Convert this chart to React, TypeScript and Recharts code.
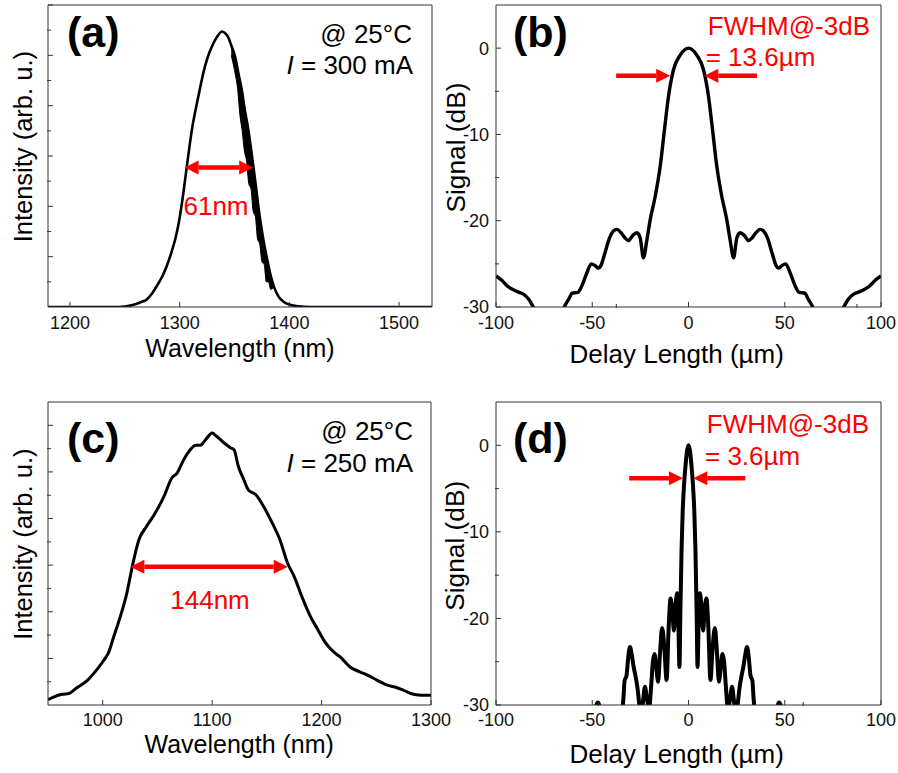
import React from 'react';
import { LineChart, ComposedChart, Line, Area, XAxis, YAxis, ReferenceLine } from 'recharts';

// (a) spectrum at 300 mA
const wavelengthA = [1180, 1200, 1220, 1240, 1250, 1258, 1264, 1270, 1275, 1279, 1284, 1288, 1292, 1296, 1299, 1302, 1306, 1311, 1317, 1323, 1327, 1331, 1335, 1338.5, 1341, 1344, 1347, 1350.5, 1353.5, 1356.6, 1359.5, 1362.6, 1365, 1367.2, 1369.5, 1371.7, 1374, 1376.3, 1379.5, 1382.4, 1386, 1390, 1395, 1400.6, 1408, 1420, 1450, 1500, 1530];
const intensityA = [0, 0, 0, 0, 0.002, 0.009, 0.018, 0.03, 0.055, 0.082, 0.12, 0.16, 0.21, 0.27, 0.33, 0.41, 0.54, 0.7, 0.836, 0.955, 1.01, 1.05, 1.08, 1.095, 1.09, 1.074, 1.04, 0.995, 0.93, 0.863, 0.78, 0.704, 0.63, 0.558, 0.48, 0.4, 0.33, 0.267, 0.195, 0.135, 0.08, 0.042, 0.02, 0.009, 0.003, 0, 0, 0, 0];
// noisy band on the long-wavelength edge
const noiseWlA = [1347, 1350, 1353, 1355, 1357, 1359, 1361, 1363, 1365, 1367, 1369, 1371, 1373, 1375, 1377, 1379, 1381, 1383, 1385];
const noiseLoA = [1.0, 0.94, 0.86, 0.76, 0.7, 0.62, 0.58, 0.49, 0.47, 0.38, 0.36, 0.27, 0.25, 0.18, 0.17, 0.1, 0.1, 0.07, 0.075];
const noiseHiA = [1.04, 1.0, 0.94, 0.9, 0.85, 0.79, 0.74, 0.69, 0.63, 0.565, 0.5, 0.425, 0.36, 0.3, 0.25, 0.205, 0.165, 0.125, 0.09];

// (b) interferogram, 13.6 um
const delayB = [-100, -97, -94, -91, -88, -85.8, -83, -80.6, -77, -72, -67, -64.5, -62, -60.5, -57.5, -55.5, -52.9, -50.5, -48.5, -46.8, -45.5, -43.5, -41, -39, -37.2, -35, -33, -31.2, -29, -26.8, -25.1, -23.4, -21.6, -19.9, -17.3, -14.7, -12.1, -10.4, -7.8, -4.3, 0, 4.3, 7.8, 10.4, 12.1, 14.7, 17.3, 19.9, 21.6, 23.4, 25.1, 26.8, 29, 31.2, 33, 35, 37.2, 39, 41, 43.5, 45.5, 46.8, 48.5, 50.5, 52.9, 55.5, 57.5, 60.5, 62, 64.5, 67, 72, 77, 80.6, 83, 85.8, 88, 91, 94, 97, 100];
const signalB = [-26.4, -26.9, -27.6, -28.0, -28.3, -28.5, -29.1, -30.0, -31.5, -32.5, -31.5, -30.0, -29.0, -28.4, -28.3, -27.6, -26.1, -25.0, -25.2, -25.5, -25.2, -23.8, -22.0, -21.2, -21.0, -21.4, -22.0, -22.3, -21.7, -21.4, -22.0, -24.3, -22.2, -19.9, -17.2, -13.7, -8.7, -5.6, -2.5, -0.8, 0, -0.8, -2.5, -5.6, -8.7, -13.7, -17.2, -19.9, -22.2, -24.3, -22.0, -21.4, -21.7, -22.3, -22.0, -21.4, -21.0, -21.2, -22.0, -23.8, -25.2, -25.5, -25.2, -25.0, -26.1, -27.6, -28.3, -28.4, -29.0, -30.0, -31.5, -32.5, -31.5, -30.0, -29.1, -28.5, -28.3, -28.0, -27.6, -26.9, -26.4];

// (c) spectrum at 250 mA
const wavelengthC = [950, 955, 963, 969, 976, 986, 993, 1001, 1005, 1010, 1016, 1022, 1027, 1033, 1040, 1047, 1056, 1063, 1068, 1074, 1080, 1085, 1089, 1094, 1100, 1104, 1111, 1117, 1120, 1124, 1129, 1133, 1140, 1147, 1155, 1162, 1169, 1175, 1182, 1190, 1196, 1203, 1211, 1217, 1226, 1235, 1242, 1251, 1260, 1267, 1275, 1284, 1292, 1300];
const intensityC = [0.023, 0.034, 0.046, 0.049, 0.073, 0.106, 0.142, 0.192, 0.221, 0.292, 0.378, 0.479, 0.594, 0.708, 0.766, 0.816, 0.895, 0.973, 0.995, 1.052, 1.095, 1.114, 1.114, 1.138, 1.167, 1.153, 1.124, 1.103, 1.095, 1.023, 0.966, 0.923, 0.902, 0.852, 0.78, 0.708, 0.608, 0.551, 0.465, 0.378, 0.328, 0.271, 0.228, 0.206, 0.163, 0.142, 0.128, 0.106, 0.085, 0.077, 0.063, 0.046, 0.042, 0.042];

// (d) interferogram, 3.6 um
const delayD = [-100, -70, -55, -50, -47, -45, -40, -36, -34.6, -33.8, -33.2, -32.2, -31.3, -30.4, -29.4, -28.5, -27.4, -26.4, -25.4, -24.3, -23.6, -22.6, -21.6, -20.5, -19.3, -18.5, -17.7, -16.8, -15.8, -14.8, -13.7, -12.5, -11.4, -10.3, -9.3, -8.4, -7.6, -6.7, -5.9, -5.3, -4.7, -4.2, -3.6, -3.0, -2.3, -1.6, -0.8, 0, 0.8, 1.6, 2.3, 3.0, 3.6, 4.2, 4.7, 5.3, 5.9, 6.7, 7.6, 8.4, 9.3, 10.3, 11.4, 12.5, 13.7, 14.8, 15.8, 16.8, 17.7, 18.5, 19.3, 20.5, 21.6, 22.6, 23.6, 24.3, 25.4, 26.4, 27.4, 28.5, 29.4, 30.4, 31.3, 32.2, 33.2, 33.8, 34.6, 36, 40, 45, 47, 50, 55, 70, 100];
const signalD = [-34, -34, -33, -31.5, -29.7, -31.5, -33, -32.5, -31, -29.2, -27.2, -26.6, -24.5, -23.3, -24.3, -25.6, -26.8, -28.2, -30.2, -31, -29.5, -27.9, -29.3, -30.4, -27.5, -25, -24.1, -25.5, -27.3, -24, -21.1, -23.5, -27.1, -21, -17.7, -19, -21.4, -18.5, -17.1, -20, -25.6, -19, -12, -7.5, -4.5, -2.5, -0.7, 0, -0.7, -2.5, -4.5, -7.5, -12, -19, -25.6, -20, -17.1, -18.5, -21.4, -19, -17.7, -21, -27.1, -23.5, -21.1, -24, -27.3, -25.5, -24.1, -25, -27.5, -30.4, -29.3, -27.9, -29.5, -31, -30.2, -28.2, -26.8, -25.6, -24.3, -23.3, -24.5, -26.6, -27.2, -29.2, -31, -32.5, -33, -31.5, -29.7, -31.5, -33, -34, -34];

const specTicks = { yMajor: [0.2, 0.4, 0.6, 0.8, 1.0, 1.2], yMinor: [0.1, 0.3, 0.5, 0.7, 0.9, 1.1] };
const delayMajor = [-100, -50, 0, 50, 100];
const delayMinor = [-75, -25, 25, 75];
const dbMajor = [-30, -20, -10, 0];
const dbMinor = [-25, -15, -5];

const RED = '#ff0000';
const AXIS = '#333';
const FONT = '"Liberation Sans", Arial, sans-serif';

const rowsA = [
  ...wavelengthA.map((x, i) => ({ x, y: intensityA[i] })),
  ...noiseWlA.map((x, i) => ({ x, band: [noiseLoA[i], noiseHiA[i]] })),
].sort((p, q) => p.x - q.x);
const rowsB = delayB.map((x, i) => ({ x, y: signalB[i] }));
const rowsC = wavelengthC.map((x, i) => ({ x, y: intensityC[i] }));
const rowsD = delayD.map((x, i) => ({ x, y: signalD[i] }));

type AxisOpts = {
  xDomain: [number, number];
  xMajor: number[];
  xMinor: number[];
  yDomain: [number, number];
  yMajor: number[];
  yMinor: number[];
  yLabels: boolean;
  xTickMargin: number;
};

// axes are 1px thick (recharts skips 0-size axes); the margins below absorb that
function axes(o: AxisOpts) {
  const tickStyle = { fill: '#111', fontSize: 18 };
  const blank = () => '';
  return [
    <XAxis key="xb" xAxisId="main" dataKey="x" type="number" domain={o.xDomain} ticks={o.xMajor} interval={0}
      allowDataOverflow height={1} stroke={AXIS} tickSize={-5} tickMargin={o.xTickMargin} tick={tickStyle} />,
    <XAxis key="xm" xAxisId="minor" type="number" domain={o.xDomain} ticks={o.xMinor} interval={0}
      allowDataOverflow height={1} axisLine={false} stroke={AXIS} tickSize={-4} tickFormatter={blank} />,
    <XAxis key="xt" xAxisId="top" orientation="top" type="number" domain={o.xDomain}
      allowDataOverflow height={1} stroke={AXIS} tick={false} tickLine={false} />,
    <YAxis key="yl" yAxisId="main" type="number" domain={o.yDomain} ticks={o.yMajor} interval={0}
      allowDataOverflow width={1} stroke={AXIS} tickSize={-5} tickMargin={12} tick={tickStyle}
      tickFormatter={o.yLabels ? undefined : blank} />,
    <YAxis key="ym" yAxisId="minor" type="number" domain={o.yDomain} ticks={o.yMinor} interval={0}
      allowDataOverflow width={1} axisLine={false} stroke={AXIS} tickSize={-4} tickFormatter={blank} />,
    <YAxis key="yr" yAxisId="right" orientation="right" type="number" domain={o.yDomain}
      allowDataOverflow width={1} stroke={AXIS} tick={false} tickLine={false} />,
  ];
}

// red arrow drawn along a reference segment, heads at either end
const arrow = (startHead: boolean, endHead: boolean) => (props: any) => {
  const { x1, y1, x2, y2 } = props;
  const len = 14;
  const half = 7;
  const dir = Math.sign(x2 - x1) || 1;
  const sx = startHead ? x1 + dir * len : x1;
  const ex = endHead ? x2 - dir * len : x2;
  return (
    <g>
      <line x1={sx} y1={y1} x2={ex} y2={y2} stroke={RED} strokeWidth={4.5} />
      {startHead && (
        <polygon points={`${x1},${y1} ${x1 + dir * len},${y1 - half} ${x1 + dir * len},${y1 + half}`} fill={RED} />
      )}
      {endHead && (
        <polygon points={`${x2},${y2} ${x2 - dir * len},${y2 - half} ${x2 - dir * len},${y2 + half}`} fill={RED} />
      )}
    </g>
  );
};

const box = (left: number, top: number): React.CSSProperties => ({ position: 'absolute', left, top });

export default function App() {
  return (
    <div style={{ position: 'absolute', left: 0, top: 0, width: 898, height: 773, background: '#fff', fontFamily: FONT }}>
      <div style={box(0, 0)}>
        <ComposedChart width={470} height={386} data={rowsA} margin={{ top: 4, right: 37, bottom: 77, left: 46 }}>
          {axes({ xDomain: [1180, 1530], xMajor: [1200, 1300, 1400, 1500], xMinor: [1250, 1350, 1450],
            yDomain: [0, 1.2], ...specTicks, yLabels: false, xTickMargin: 14.7 })}
          <Area xAxisId="main" yAxisId="main" dataKey="band" type="monotone" stroke="#000" strokeWidth={1}
            fill="#000" fillOpacity={1} connectNulls isAnimationActive={false} />
          <Line xAxisId="main" yAxisId="main" dataKey="y" type="monotone" stroke="#000" strokeWidth={2.6}
            dot={false} activeDot={false} connectNulls isAnimationActive={false} />
          <ReferenceLine xAxisId="main" yAxisId="main" ifOverflow="visible"
            segment={[{ x: 1304.5, y: 0.554 }, { x: 1367, y: 0.554 }]} shape={arrow(true, true)} />
        </ComposedChart>
      </div>

      <div style={box(449, 0)}>
        <LineChart width={449} height={386} data={rowsB} margin={{ top: 4, right: 16, bottom: 77, left: 45 }}>
          {axes({ xDomain: [-100, 100], xMajor: delayMajor, xMinor: delayMinor,
            yDomain: [-30, 5], yMajor: dbMajor, yMinor: dbMinor, yLabels: true, xTickMargin: 14.7 })}
          <Line xAxisId="main" yAxisId="main" dataKey="y" type="monotone" stroke="#000" strokeWidth={3.4}
            dot={false} activeDot={false} isAnimationActive={false} />
          <ReferenceLine xAxisId="main" yAxisId="main" ifOverflow="visible"
            segment={[{ x: -37.6, y: -3.2 }, { x: -9.5, y: -3.2 }]} shape={arrow(false, true)} />
          <ReferenceLine xAxisId="main" yAxisId="main" ifOverflow="visible"
            segment={[{ x: 35.6, y: -3.2 }, { x: 8.2, y: -3.2 }]} shape={arrow(false, true)} />
        </LineChart>
      </div>

      <div style={box(0, 386)}>
        <LineChart width={470} height={387} data={rowsC} margin={{ top: 15, right: 38, bottom: 66, left: 46 }}>
          {axes({ xDomain: [950, 1300], xMajor: [1000, 1100, 1200, 1300], xMinor: [1050, 1150, 1250],
            yDomain: [0, 1.3], ...specTicks, yLabels: false, xTickMargin: 13.6 })}
          <Line xAxisId="main" yAxisId="main" dataKey="y" type="monotone" stroke="#000" strokeWidth={3}
            dot={false} activeDot={false} isAnimationActive={false} />
          <ReferenceLine xAxisId="main" yAxisId="main" ifOverflow="visible"
            segment={[{ x: 1025.3, y: 0.593 }, { x: 1169.1, y: 0.593 }]} shape={arrow(true, true)} />
        </LineChart>
      </div>

      <div style={box(449, 386)}>
        <LineChart width={449} height={387} data={rowsD} margin={{ top: 15, right: 16, bottom: 66, left: 45 }}>
          {axes({ xDomain: [-100, 100], xMajor: delayMajor, xMinor: delayMinor,
            yDomain: [-30, 5], yMajor: dbMajor, yMinor: dbMinor, yLabels: true, xTickMargin: 13.6 })}
          <Line xAxisId="main" yAxisId="main" dataKey="y" type="monotone" stroke="#000" strokeWidth={4}
            dot={false} activeDot={false} isAnimationActive={false} />
          <ReferenceLine xAxisId="main" yAxisId="main" ifOverflow="visible"
            segment={[{ x: -30.8, y: -3.8 }, { x: -2.9, y: -3.8 }]} shape={arrow(false, true)} />
          <ReferenceLine xAxisId="main" yAxisId="main" ifOverflow="visible"
            segment={[{ x: 29.5, y: -3.8 }, { x: 2.5, y: -3.8 }]} shape={arrow(false, true)} />
        </LineChart>
      </div>

      <svg width={898} height={773} style={{ position: 'absolute', left: 0, top: 0, pointerEvents: 'none' }}
        fontFamily={FONT}>
        <g fontSize={43} fontWeight="bold" fill="#000">
          <text x={67} y={46.7}>(a)</text>
          <text x={513} y={46.7}>(b)</text>
          <text x={67} y={453.3}>(c)</text>
          <text x={513} y={453.3}>(d)</text>
        </g>
        <g fontSize={26} fill="#000" textAnchor="end">
          <text x={412} y={43.3}>@ 25°C</text>
          <text x={413} y={74}><tspan fontStyle="italic">I</tspan> = 300 mA</text>
          <text x={413} y={440}>@ 25°C</text>
          <text x={413} y={471.7}><tspan fontStyle="italic">I</tspan> = 250 mA</text>
        </g>
        <g fontSize={26} fill={RED}>
          <text x={216} y={215} textAnchor="middle">61nm</text>
          <text x={210} y={609.3} textAnchor="middle">144nm</text>
          <text x={870} y={35} textAnchor="end">FWHM@-3dB</text>
          <text x={705.7} y={66}>= 13.6µm</text>
          <text x={869} y={433.3} textAnchor="end">FWHM@-3dB</text>
          <text x={705} y={465}>= 3.6µm</text>
        </g>
        <g fill="#000" textAnchor="middle">
          <text x={240} y={356.7} fontSize={25}>Wavelength (nm)</text>
          <text x={239.2} y={753.3} fontSize={25}>Wavelength (nm)</text>
          <text x={676.7} y={363.3} fontSize={26}>Delay Length (µm)</text>
          <text x={676.7} y={763.3} fontSize={26}>Delay Length (µm)</text>
          <text x={31.7} y={146.7} fontSize={25.5} transform="rotate(-90 31.7 146.7)">Intensity (arb. u.)</text>
          <text x={31.7} y={544.2} fontSize={25.5} transform="rotate(-90 31.7 544.2)">Intensity (arb. u.)</text>
          <text x={465} y={147.5} fontSize={26.3} transform="rotate(-90 465 147.5)">Signal (dB)</text>
          <text x={464} y={545.8} fontSize={26.3} transform="rotate(-90 464 545.8)">Signal (dB)</text>
        </g>
      </svg>
    </div>
  );
}
